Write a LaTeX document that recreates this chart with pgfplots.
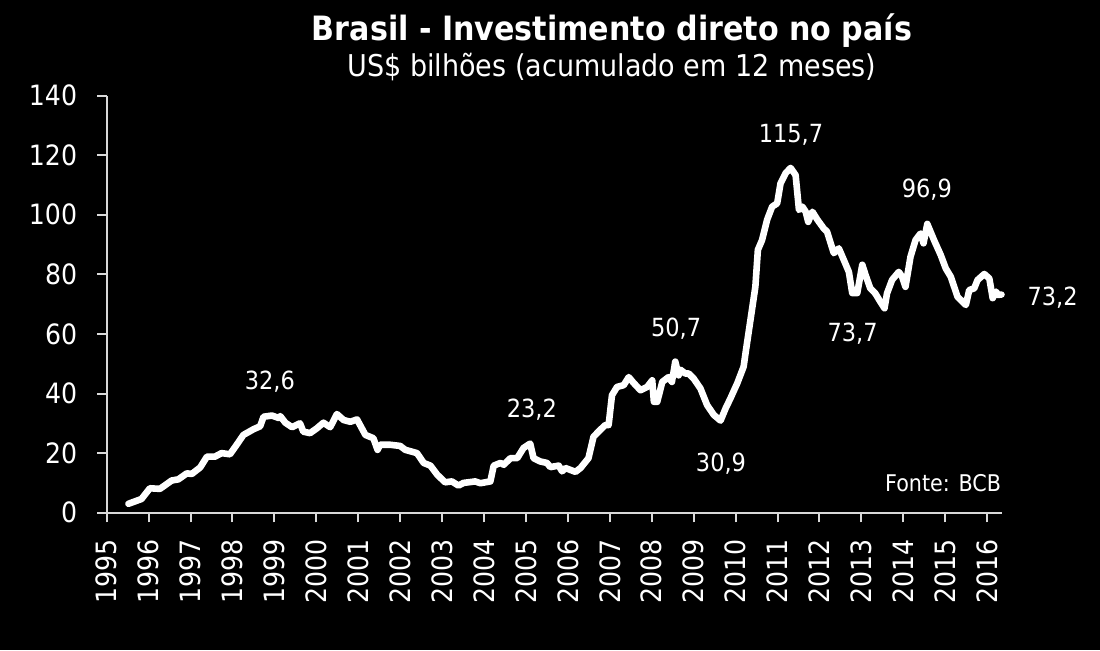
\documentclass[border=0pt]{standalone}
\usepackage{fontspec}
\setmainfont{DejaVu Sans Condensed}
\usepackage{pgfplots}
\pgfplotsset{compat=1.18}
\definecolor{axc}{RGB}{217,217,217}
\begin{document}
\begin{tikzpicture}
\fill[black] (-53.35pt,-68.65pt) rectangle (496.65pt,256.35pt);
\begin{axis}[at={(0pt,0pt)},anchor=south west, scale only axis,
 width=447.4pt, height=208.6pt,
 xmin=1995, xmax=2016.34, ymin=0, ymax=140,
 axis x line*=bottom, axis y line*=left,
 axis line style={axc, line width=1pt},
 tick style={axc, line width=1pt},
 tick align=outside, major tick length=4.8pt,
 xtick={1995,...,2016}, ytick={0,20,...,140},
 /pgf/number format/1000 sep={},
 /pgf/number format/assume math mode=true,
 xticklabel shift=5pt, yticklabel shift=6.5pt,
 x tick label style={rotate=90, anchor=east, font=\fontsize{14}{16}\selectfont, text=white},
 y tick label style={font=\fontsize{14}{16}\selectfont, text=white},
 clip=false,
]
\addplot[white, line width=3.3pt, line join=round, line cap=round] coordinates {
(1995.52,3.0)(1995.83,4.6)(1996.03,8.2)(1996.27,8.0)(1996.55,10.8)(1996.71,11.2)
(1996.91,13.2)(1997.03,13.0)(1997.23,15.2)(1997.39,18.8)(1997.58,18.8)(1997.74,20.0)
(1997.94,19.6)(1998.10,22.8)(1998.26,26.1)(1998.50,28.0)(1998.66,29.0)(1998.74,32.2)
(1998.94,32.6)(1999.10,31.8)(1999.14,32.4)(1999.26,30.2)(1999.42,28.7)(1999.61,30.0)
(1999.69,27.2)(1999.85,26.7)(2000.01,28.3)(2000.17,30.2)(2000.33,28.7)(2000.49,33.1)
(2000.65,31.1)(2000.81,30.5)(2000.97,31.3)(2001.17,26.1)(2001.36,25.0)(2001.46,21.1)
(2001.52,22.8)(2001.76,22.8)(2002.00,22.4)(2002.12,21.1)(2002.40,20.0)(2002.56,16.7)
(2002.72,15.8)(2002.88,12.8)(2003.07,10.2)(2003.23,10.5)(2003.39,9.1)(2003.51,10.0)
(2003.79,10.5)(2003.91,9.9)(2004.15,10.5)(2004.23,15.8)(2004.39,16.7)(2004.47,16.1)
(2004.63,18.3)(2004.79,18.3)(2004.94,21.7)(2005.10,23.2)(2005.18,18.3)(2005.34,17.2)
(2005.50,16.7)(2005.58,15.3)(2005.78,15.8)(2005.86,13.9)(2005.94,15.0)(2006.18,13.7)
(2006.30,15.0)(2006.49,18.3)(2006.61,25.5)(2006.77,27.8)(2006.89,29.4)(2006.97,29.4)
(2007.05,39.4)(2007.17,42.2)(2007.33,42.8)(2007.45,45.5)(2007.57,43.5)(2007.73,41.1)
(2007.89,42.2)(2008.01,44.4)(2008.05,37.2)(2008.13,37.2)(2008.25,43.9)(2008.40,45.5)
(2008.48,43.9)(2008.56,50.7)(2008.64,46.1)(2008.68,48.0)(2008.80,46.7)(2008.88,46.7)
(2009.00,45.0)(2009.16,41.7)(2009.32,36.1)(2009.48,32.8)(2009.64,30.9)(2009.76,35.0)
(2009.88,38.5)(2010.04,43.5)(2010.19,49.0)(2010.23,53.0)(2010.35,64.4)(2010.47,75.8)
(2010.53,88.2)(2010.63,91.5)(2010.75,98.3)(2010.87,102.7)(2010.99,103.8)(2011.07,110.5)
(2011.19,113.9)(2011.31,115.7)(2011.43,113.3)(2011.51,101.6)(2011.59,102.7)(2011.67,101.0)
(2011.73,97.6)(2011.83,101.0)(2011.95,98.3)(2012.10,95.4)(2012.18,94.3)(2012.34,87.1)
(2012.46,88.7)(2012.58,84.8)(2012.70,80.8)(2012.78,73.7)(2012.90,73.7)(2013.02,83.2)
(2013.10,79.7)(2013.21,75.3)(2013.33,73.6)(2013.45,70.8)(2013.55,68.6)(2013.61,73.6)
(2013.73,78.1)(2013.89,80.8)(2013.97,79.2)(2014.05,75.8)(2014.17,85.9)(2014.29,91.5)
(2014.41,93.7)(2014.48,90.4)(2014.57,96.9)(2014.73,91.5)(2014.89,86.5)(2015.01,82.0)
(2015.13,79.2)(2015.29,72.5)(2015.49,69.7)(2015.57,74.7)(2015.69,75.3)(2015.77,78.1)
(2015.93,80.1)(2016.05,78.6)(2016.13,72.0)(2016.21,74.2)(2016.25,73.1)(2016.34,73.2)
};
\begin{scope}[every node/.style={text=white, font=\fontsize{12.5}{14}\selectfont, inner sep=0pt}]
\node[anchor=base] at (axis cs:1998.89,41.5) {32,6};
\node[anchor=base] at (axis cs:2005.14,31.8) {23,2};
\node[anchor=base] at (axis cs:2009.65,13.8) {30,9};
\node[anchor=base] at (axis cs:2008.58,59.0) {50,7};
\node[anchor=base] at (axis cs:2011.32,124.2) {115,7};
\node[anchor=base] at (axis cs:2014.56,105.8) {96,9};
\node[anchor=base] at (axis cs:2012.79,57.4) {73,7};
\node[anchor=base] at (axis cs:2017.56,69.4) {73,2};
\node[anchor=base east, font=\fontsize{11.5}{13}\selectfont] at (axis cs:2016.34,7.05) {Fonte: BCB};
\end{scope}
\end{axis}
\draw[axc, line width=1pt] (0pt,0pt) -- (-4.8pt,0pt);
\node[anchor=base, text=white, font=\fontsize{16.75}{19}\selectfont\bfseries] at (252.65pt,236.35pt) {Brasil - Investimento direto no país};
\node[anchor=base, text=white, font=\fontsize{15}{17}\selectfont] at (252.65pt,218.35pt) {US\$ bilhões (acumulado em 12 meses)};
\end{tikzpicture}
\end{document}
